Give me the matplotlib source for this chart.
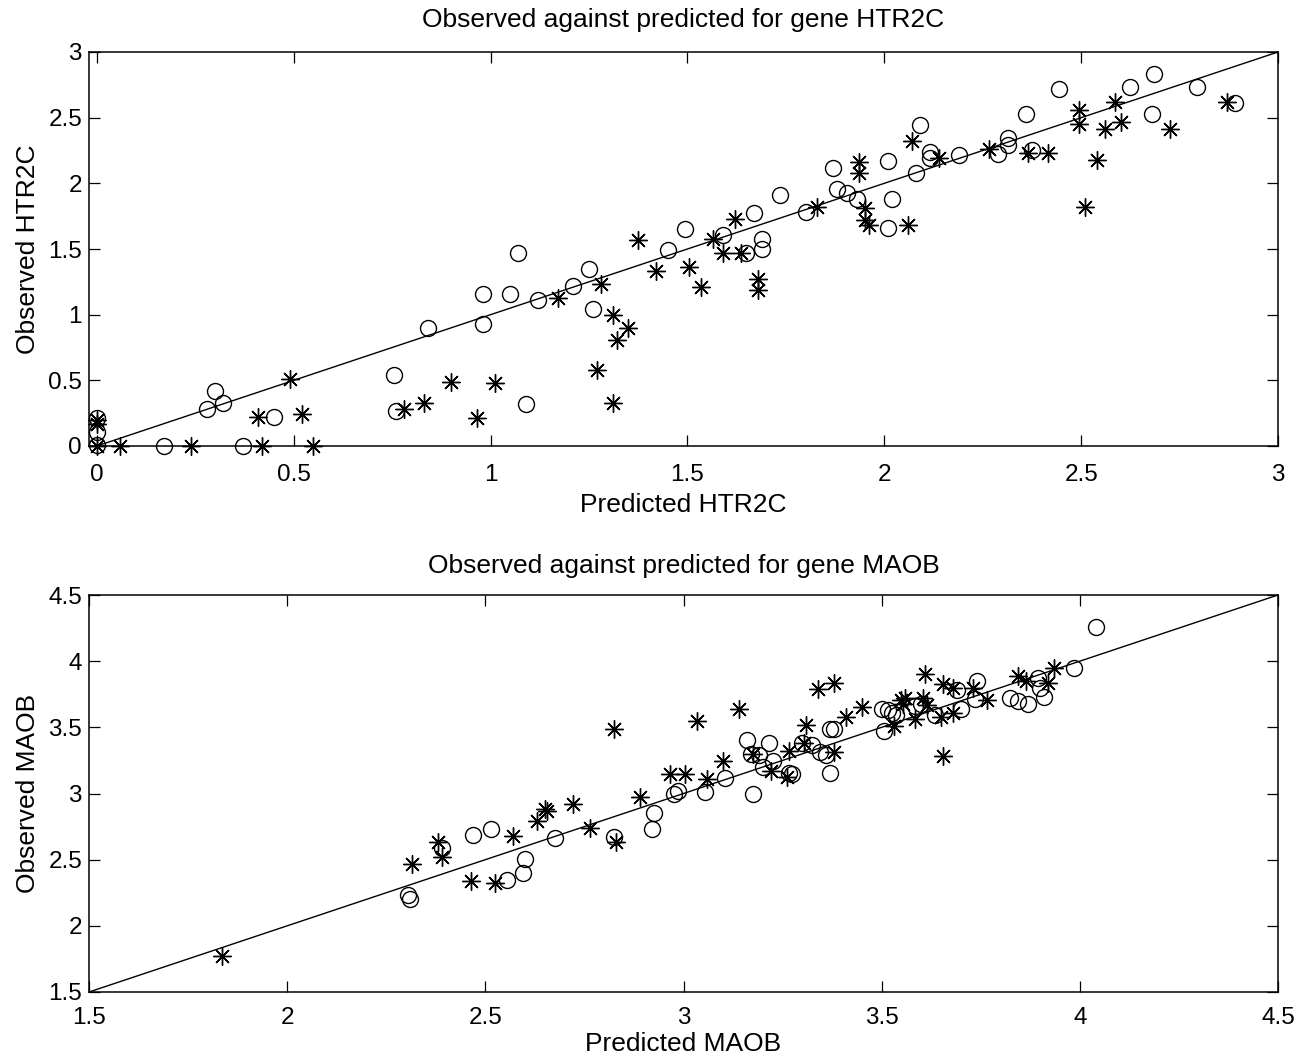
import matplotlib
matplotlib.use("Agg")
import matplotlib.pyplot as plt
from matplotlib.ticker import FuncFormatter

plt.rcParams['font.family'] = ['Liberation Sans', 'DejaVu Sans']

# ---- HTR2C data ----
htr_circle_pred = [0, 0, 0, 0.17, 0.37, 0.28, 0.30, 0.32, 0.45, 0.755, 0.76, 0.84, 0.98, 0.98,
                   1.05, 1.07, 1.09, 1.12, 1.21, 1.25, 1.26, 1.45, 1.495, 1.59, 1.67, 1.69, 1.69,
                   1.65, 1.735, 1.80, 1.87, 1.88, 1.905, 1.93, 2.01, 2.02, 2.01, 2.08, 2.09, 2.115,
                   2.115, 2.19, 2.29, 2.315, 2.315, 2.375, 2.36, 2.445, 2.625, 2.685, 2.68, 2.795, 2.89]
htr_circle_obs = [0.21, 0.11, 0.01, 0.0, 0.0, 0.28, 0.42, 0.33, 0.22, 0.54, 0.27, 0.90, 0.93, 1.155,
                  1.155, 1.47, 0.32, 1.11, 1.22, 1.35, 1.04, 1.49, 1.65, 1.61, 1.775, 1.575, 1.50,
                  1.47, 1.91, 1.785, 2.12, 1.955, 1.93, 1.88, 2.17, 1.88, 1.66, 2.08, 2.445, 2.24,
                  2.19, 2.215, 2.22, 2.345, 2.295, 2.255, 2.525, 2.72, 2.73, 2.83, 2.525, 2.735, 2.615]

htr_star_pred = [0, 0, 0, 0.06, 0.24, 0.41, 0.42, 0.49, 0.52, 0.55, 0.78, 0.83, 0.90, 0.965, 1.01,
                 1.17, 1.28, 1.31, 1.35, 1.32, 1.27, 1.31, 1.375, 1.42, 1.505, 1.535, 1.565, 1.59,
                 1.62, 1.635, 1.68, 1.68, 1.83, 1.935, 1.935, 1.95, 1.95, 1.96, 2.06, 2.07, 2.14,
                 2.265, 2.365, 2.415, 2.495, 2.495, 2.51, 2.54, 2.56, 2.585, 2.60, 2.725, 2.87]
htr_star_obs = [0.20, 0.17, 0.0, 0.0, 0.0, 0.22, 0.0, 0.51, 0.24, 0.0, 0.28, 0.33, 0.49, 0.21, 0.48,
                1.13, 1.23, 1.0, 0.90, 0.81, 0.58, 0.33, 1.57, 1.33, 1.36, 1.21, 1.575, 1.47,
                1.73, 1.47, 1.27, 1.19, 1.82, 2.16, 2.08, 1.81, 1.72, 1.685, 1.68, 2.32, 2.19,
                2.26, 2.23, 2.23, 2.56, 2.455, 1.82, 2.18, 2.41, 2.62, 2.465, 2.41, 2.62]

# ---- MAOB data ----
maob_circle_pred = [2.305, 2.31, 2.39, 2.47, 2.515, 2.555, 2.595, 2.60, 2.675, 2.825, 2.925, 2.92,
                    2.975, 2.985, 3.055, 3.105, 3.175, 3.16, 3.17, 3.19, 3.215, 3.20, 3.225, 3.265,
                    3.275, 3.30, 3.325, 3.345, 3.36, 3.37, 3.37, 3.38, 3.50, 3.505, 3.515, 3.525,
                    3.535, 3.585, 3.60, 3.635, 3.69, 3.70, 3.735, 3.74, 3.825, 3.845, 3.87, 3.895,
                    3.90, 3.91, 3.985, 4.04]
maob_circle_obs = [2.235, 2.20, 2.585, 2.69, 2.73, 2.345, 2.40, 2.505, 2.66, 2.675, 2.855, 2.73,
                   3.0, 3.02, 3.01, 3.12, 3.0, 3.405, 3.30, 3.29, 3.385, 3.20, 3.245, 3.155,
                   3.15, 3.38, 3.365, 3.315, 3.29, 3.155, 3.485, 3.49, 3.635, 3.47, 3.63, 3.61,
                   3.595, 3.66, 3.675, 3.595, 3.78, 3.635, 3.715, 3.85, 3.72, 3.70, 3.675, 3.87,
                   3.80, 3.73, 3.945, 4.26]

maob_star_pred = [1.835, 2.315, 2.38, 2.39, 2.465, 2.525, 2.57, 2.63, 2.65, 2.655, 2.72, 2.765,
                  2.825, 2.83, 2.89, 2.965, 3.005, 3.035, 3.06, 3.10, 3.14, 3.175, 3.22, 3.26,
                  3.265, 3.31, 3.305, 3.34, 3.38, 3.38, 3.41, 3.45, 3.53, 3.55, 3.56, 3.555,
                  3.585, 3.605, 3.615, 3.61, 3.65, 3.655, 3.655, 3.68, 3.68, 3.73, 3.765, 3.845,
                  3.865, 3.92, 3.935]
maob_star_obs = [1.77, 2.47, 2.63, 2.52, 2.34, 2.32, 2.68, 2.79, 2.88, 2.87, 2.92, 2.74,
                 3.49, 2.63, 2.975, 3.145, 3.15, 3.55, 3.11, 3.245, 3.64, 3.30, 3.17, 3.125,
                 3.32, 3.52, 3.38, 3.79, 3.835, 3.31, 3.58, 3.65, 3.51, 3.705, 3.725, 3.68,
                 3.565, 3.72, 3.665, 3.90, 3.58, 3.83, 3.28, 3.61, 3.80, 3.80, 3.705, 3.89,
                 3.85, 3.835, 3.945]

htr_ticks = [0, 0.5, 1, 1.5, 2, 2.5, 3]
maob_ticks = [1.5, 2, 2.5, 3, 3.5, 4, 4.5]

fig = plt.figure(figsize=(13.15, 10.64), dpi=100)
W, H = 1315, 1064

def make_ax(left, top, right, bottom):
    return fig.add_axes([left / W, 1 - bottom / H, (right - left) / W, (bottom - top) / H])

ax1 = make_ax(89, 52, 1278, 446)
ax2 = make_ax(89, 595, 1278, 992)

fmt = FuncFormatter(lambda v, p: ('%g' % v))
TICK_FS = 17.5
LABEL_FS = 19

def style(ax, ticks, xlim, ylim, xpad):
    ax.set_xlim(*xlim)
    ax.set_ylim(*ylim)
    ax.set_xticks(ticks)
    ax.set_yticks(ticks)
    ax.xaxis.set_major_formatter(fmt)
    ax.yaxis.set_major_formatter(fmt)
    ax.tick_params(direction='in', length=8, width=0.9, top=True, right=True,
                   labelsize=TICK_FS, colors='black')
    ax.tick_params(axis='x', pad=xpad)
    ax.tick_params(axis='y', pad=5)
    for s in ax.spines.values():
        s.set_linewidth(1.1)

mk = dict(linestyle='none', color='black', clip_on=False)
circle_kw = dict(marker='o', markersize=11.5, markerfacecolor='none', markeredgewidth=1.0, **mk)
star_kw = dict(marker=(8, 2, 0), markersize=13, markeredgewidth=1.0, **mk)

ax1.plot([0, 3], [0, 3], color='black', linewidth=1.0)
ax1.plot(htr_circle_pred, htr_circle_obs, **circle_kw)
ax1.plot(htr_star_pred, htr_star_obs, **star_kw)
style(ax1, htr_ticks, (-0.02, 3), (0, 3), 13)
ax1.set_title('Observed against predicted for gene HTR2C', fontsize=LABEL_FS, pad=18)
ax1.set_xlabel('Predicted HTR2C', fontsize=LABEL_FS, labelpad=5)
ax1.set_ylabel('Observed HTR2C', fontsize=LABEL_FS, labelpad=6)

ax2.plot([1.5, 4.5], [1.5, 4.5], color='black', linewidth=1.0)
ax2.plot(maob_circle_pred, maob_circle_obs, **circle_kw)
ax2.plot(maob_star_pred, maob_star_obs, **star_kw)
style(ax2, maob_ticks, (1.5, 4.5), (1.5, 4.5), 11)
ax2.set_title('Observed against predicted for gene MAOB', fontsize=LABEL_FS, pad=16)
ax2.set_xlabel('Predicted MAOB', fontsize=LABEL_FS, labelpad=2)
ax2.set_ylabel('Observed MAOB', fontsize=LABEL_FS, labelpad=6)

fig.savefig('out.png', dpi=100, facecolor='white')
